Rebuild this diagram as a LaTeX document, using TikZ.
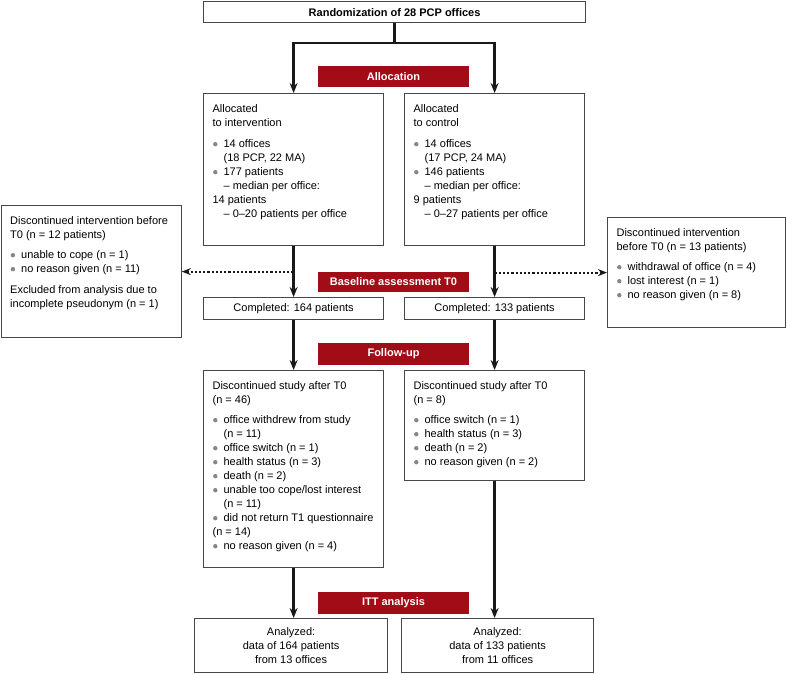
\documentclass[tikz,border=0pt]{standalone}
\usepackage{fontspec}
\setmainfont{Liberation Sans}
\usetikzlibrary{arrows.meta,positioning}
\definecolor{barred}{RGB}{161,12,22}
\definecolor{boxgray}{RGB}{70,70,70}
\definecolor{dotgray}{RGB}{135,135,135}
\definecolor{linegray}{RGB}{25,25,25}
\newcommand{\bul}{\makebox[11pt][l]{\hspace{0.5pt}\tikz[baseline=-3.4pt]\fill[dotgray] (0,0) circle (2.2pt);}}
\newcommand{\ind}{\hspace*{11pt}}
\newcommand{\toptext}[3]{\parbox[c][#2][t]{#1}{\raggedright #3}}

\begin{document}
\begin{tikzpicture}[x=1pt, y=-1pt, >={Stealth[length=10pt,width=8pt]},
  font=\fontsize{11}{14}\selectfont,
  flowbox/.style={draw=boxgray, line width=1.2pt, fill=white, inner xsep=9pt, inner ysep=11pt, anchor=north west},
  flatbox/.style={draw=boxgray, line width=1.2pt, fill=white, inner sep=0pt, anchor=north west, align=center},
  phasebar/.style={fill=barred, text=white, font=\fontsize{11}{14}\selectfont\bfseries, minimum width=151pt, minimum height=21pt, inner sep=0pt},
  flow/.style={->, line width=2.5pt, draw=linegray},
  branch/.style={->, line width=2.2pt, draw=linegray, dash pattern=on 2.2pt off 2pt, >={Stealth[length=9pt,width=7pt]}}]
  \useasboundingbox (0,0) rectangle (787,673);

  \node[flatbox, minimum width=382pt, minimum height=21pt, font=\fontsize{11}{14}\selectfont\bfseries] (rand) at (203,1) {Randomization of 28 PCP offices};
  \coordinate (split) at (rand.south |- 0,43);

  \node[phasebar] (allocbar) at (393.5,76.5) {Allocation};
  \node[flowbox] (alloc1) at (203,93) {\toptext{162pt}{130pt}{Allocated\\to intervention\\[7pt]\bul 14 offices\\\ind(18 PCP, 22 MA)\\\bul 177 patients\\\ind– median per office:\\14 patients\\\ind– 0–20 patients per office}};
  \node[flowbox] (alloc2) at (404,93) {\toptext{162pt}{130pt}{Allocated\\to control\\[7pt]\bul 14 offices\\\ind(17 PCP, 24 MA)\\\bul 146 patients\\\ind– median per office:\\9 patients\\\ind– 0–27 patients per office}};

  \node[flowbox] (side1) at (0.6,205) {\toptext{162pt}{110pt}{Discontinued intervention before\\T0 (n = 12 patients)\\[6pt]\bul unable to cope (n = 1)\\\bul no reason given (n = 11)\\[7pt]Excluded from analysis due to\\incomplete pseudonym (n = 1)}};
  \node[flowbox] (side2) at (607,217) {\toptext{160pt}{88pt}{Discontinued intervention\\before T0 (n = 13 patients)\\[6pt]\bul withdrawal of office (n = 4)\\\bul lost interest (n = 1)\\\bul no reason given (n = 8)}};

  \node[phasebar, minimum height=20pt] (basebar) at (393.5,282) {Baseline assessment T0};
  \node[flatbox, minimum width=180pt, minimum height=22pt] (comp1) at (203,297) {Completed: 164 patients};
  \node[flatbox, minimum width=180pt, minimum height=22pt] (comp2) at (404,297) {Completed: 133 patients};

  \node[phasebar, minimum height=22pt] (fubar) at (393.5,354) {Follow-up};
  \node[flowbox] (fu1) at (203,370) {\toptext{162pt}{175pt}{Discontinued study after T0\\(n = 46)\\[6pt]\bul office withdrew from study\\\ind(n = 11)\\\bul office switch (n = 1)\\\bul health status (n = 3)\\\bul death (n = 2)\\\bul unable too cope/lost interest\\\ind(n = 11)\\\bul did not return T1 questionnaire\\(n = 14)\\\bul no reason given (n = 4)}};
  \node[flowbox] (fu2) at (404,370) {\toptext{162pt}{88pt}{Discontinued study after T0\\(n = 8)\\[6pt]\bul office switch (n = 1)\\\bul health status (n = 3)\\\bul death (n = 2)\\\bul no reason given (n = 2)}};

  \node[phasebar, minimum height=22pt] (ittbar) at (393.5,603) {ITT analysis};
  \node[flatbox, minimum width=193pt, minimum height=54pt] (an1) at (194,618) {Analyzed:\\data of 164 patients\\from 13 offices};
  \node[flatbox, minimum width=192pt, minimum height=54pt] (an2) at (401,618) {Analyzed:\\data of 133 patients\\from 11 offices};

  \draw[line width=2.5pt, draw=linegray] (rand.south) -- (split);
  \draw[flow] (split) -| (alloc1.north);
  \draw[flow] (split) -| (alloc2.north);
  \draw[flow] (alloc1.south) -- (comp1.north);
  \draw[flow] (alloc2.south) -- (comp2.north);
  \draw[branch] (alloc1.south |- side1.east) -- (side1.east);
  \draw[branch] (alloc2.south |- side2.west) -- (side2.west);
  \draw[flow] (comp1.south) -- (fu1.north);
  \draw[flow] (comp2.south) -- (fu2.north);
  \draw[flow] (fu1.south) -- (fu1.south |- an1.north);
  \draw[flow] (fu2.south) -- (fu2.south |- an2.north);
\end{tikzpicture}
\end{document}
